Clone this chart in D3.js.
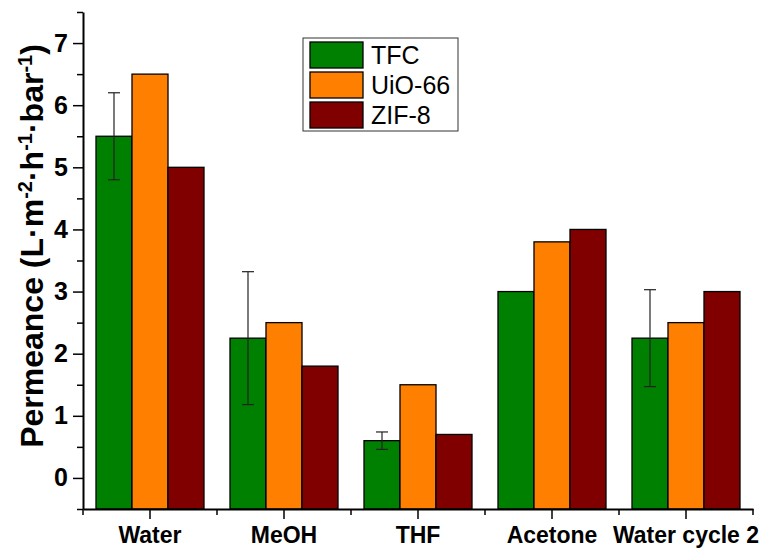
<!DOCTYPE html>
<html>
<head>
<meta charset="utf-8">
<script src="https://cdn.jsdelivr.net/npm/d3@7"></script>
<style>
  body { margin: 0; background: #fff; }
  text { font-family: Arial, "Liberation Sans", sans-serif; }
</style>
</head>
<body>
<div id="chart"></div>
<script>
// chart data
var categories = ["Water", "MeOH", "THF", "Acetone", "Water cycle 2"];
var seriesNames = ["TFC", "UiO-66", "ZIF-8"];
var tfcValues = [5.5, 2.25, 0.6, 3.0, 2.25];
var tfcErrors = [0.7, 1.07, 0.14, 0, 0.78];
var uioValues = [6.5, 2.5, 1.5, 3.8, 2.5];
var zifValues = [5.0, 1.8, 0.7, 4.0, 3.0];
var yTicks = [0, 1, 2, 3, 4, 5, 6, 7];
var colors = ["#008000", "#ff8000", "#800000"];

var svgWidth = 763;
var svgHeight = 549;

var margin = { top: 12, right: 10, bottom: 40, left: 83 };
var width = 753 - margin.left;
var height = 509 - margin.top;

var svg = d3.select("#chart")
    .append("svg")
    .attr("width", svgWidth)
    .attr("height", svgHeight);

var chartGroup = svg.append("g")
    .attr("transform", `translate(${margin.left}, ${margin.top})`);

// scales
var xScale = d3.scaleBand()
    .domain(categories)
    .range([0, width]);

var groupWidth = xScale.bandwidth() * 0.806;
var xSub = d3.scaleBand()
    .domain(seriesNames)
    .range([(xScale.bandwidth() - groupWidth) / 2, (xScale.bandwidth() + groupWidth) / 2]);

var yScale = d3.scaleLinear()
    .domain([-0.5, 7.5])
    .range([height, 0]);

// build rows for the bars
var barData = [];
categories.forEach(function (c, i) {
    barData.push({ cat: c, series: "TFC", value: tfcValues[i], err: tfcErrors[i], color: colors[0] });
    barData.push({ cat: c, series: "UiO-66", value: uioValues[i], err: 0, color: colors[1] });
    barData.push({ cat: c, series: "ZIF-8", value: zifValues[i], err: 0, color: colors[2] });
});

// bars
chartGroup.selectAll("rect.bar")
    .data(barData)
    .enter()
    .append("rect")
    .attr("class", "bar")
    .attr("x", d => xScale(d.cat) + xSub(d.series))
    .attr("y", d => yScale(d.value))
    .attr("width", xSub.bandwidth())
    .attr("height", d => yScale(-0.5) - yScale(d.value))
    .attr("fill", d => d.color)
    .attr("stroke", "#000")
    .attr("stroke-width", 1.3);

// error bars (TFC only)
var errData = barData.filter(d => d.err > 0);
var errGroup = chartGroup.append("g")
    .attr("stroke", "#222")
    .attr("stroke-width", 1.2);

errData.forEach(function (d) {
    var cx = xScale(d.cat) + xSub(d.series) + xSub.bandwidth() / 2;
    var y1 = yScale(d.value + d.err);
    var y2 = yScale(d.value - d.err);
    errGroup.append("line").attr("x1", cx).attr("x2", cx).attr("y1", y1).attr("y2", y2);
    errGroup.append("line").attr("x1", cx - 6).attr("x2", cx + 6).attr("y1", y1).attr("y2", y1);
    errGroup.append("line").attr("x1", cx - 6).attr("x2", cx + 6).attr("y1", y2).attr("y2", y2);
});

// y axis with minor ticks
var minorY = d3.range(-0.5, 7.51, 0.5).filter(v => !yTicks.includes(v));
chartGroup.append("g")
    .call(d3.axisLeft(yScale).tickValues(minorY).tickSize(6).tickFormat(""))
    .call(g => g.select(".domain").remove())
    .selectAll("line").attr("stroke-width", 1.5);

var yAxis = chartGroup.append("g")
    .call(d3.axisLeft(yScale).tickValues(yTicks).tickSize(10).tickPadding(5).tickSizeOuter(0));
yAxis.select(".domain").attr("stroke-width", 2);
yAxis.selectAll("line").attr("stroke-width", 1.5);
yAxis.selectAll("text")
    .style("font-size", "25px")
    .style("font-weight", "bold")
    .attr("fill", "#000");

// x axis with boundary ticks
var boundaries = categories.map(c => xScale(c)).concat([width]);
chartGroup.append("g")
    .attr("transform", `translate(0, ${height})`)
    .selectAll("line")
    .data(boundaries)
    .enter()
    .append("line")
    .attr("x1", d => d).attr("x2", d => d)
    .attr("y1", 0).attr("y2", 6)
    .attr("stroke", "#000")
    .attr("stroke-width", 1.5);

var xAxis = chartGroup.append("g")
    .attr("transform", `translate(0, ${height})`)
    .call(d3.axisBottom(xScale).tickSize(10).tickPadding(8).tickSizeOuter(0));
xAxis.select(".domain").attr("stroke-width", 2);
xAxis.selectAll("line").attr("stroke-width", 1.5);
xAxis.selectAll("text")
    .style("font-size", "23px")
    .style("font-weight", "bold")
    .attr("fill", "#000");

// y axis title with superscripts
var yTitle = svg.append("text")
    .attr("transform", "translate(43, 246) rotate(-90)")
    .attr("text-anchor", "middle")
    .style("font-size", "32px")
    .style("font-weight", "bold")
    .attr("fill", "#000");

yTitle.append("tspan").text("Permeance (L\u00b7m");
yTitle.append("tspan").attr("baseline-shift", "super").style("font-size", "20px").text("-2");
yTitle.append("tspan").text("\u00b7h");
yTitle.append("tspan").attr("baseline-shift", "super").style("font-size", "20px").text("-1");
yTitle.append("tspan").text("\u00b7bar");
yTitle.append("tspan").attr("baseline-shift", "super").style("font-size", "20px").text("-1");
yTitle.append("tspan").text(")");

// legend
var legend = svg.append("g")
    .attr("transform", "translate(303, 38)");

legend.append("rect")
    .attr("width", 155)
    .attr("height", 93)
    .attr("fill", "#fff")
    .attr("stroke", "#333")
    .attr("stroke-width", 1);

var legendItems = legend.selectAll("g.item")
    .data(seriesNames)
    .enter()
    .append("g")
    .attr("class", "item")
    .attr("transform", (d, i) => `translate(7, ${4 + i * 30})`);

legendItems.append("rect")
    .attr("width", 53)
    .attr("height", 26)
    .attr("fill", (d, i) => colors[i])
    .attr("stroke", "#000")
    .attr("stroke-width", 1.3);

legendItems.append("text")
    .attr("x", 61)
    .attr("y", 22)
    .style("font-size", "25px")
    .attr("fill", "#000")
    .text(d => d);
</script>
</body>
</html>
